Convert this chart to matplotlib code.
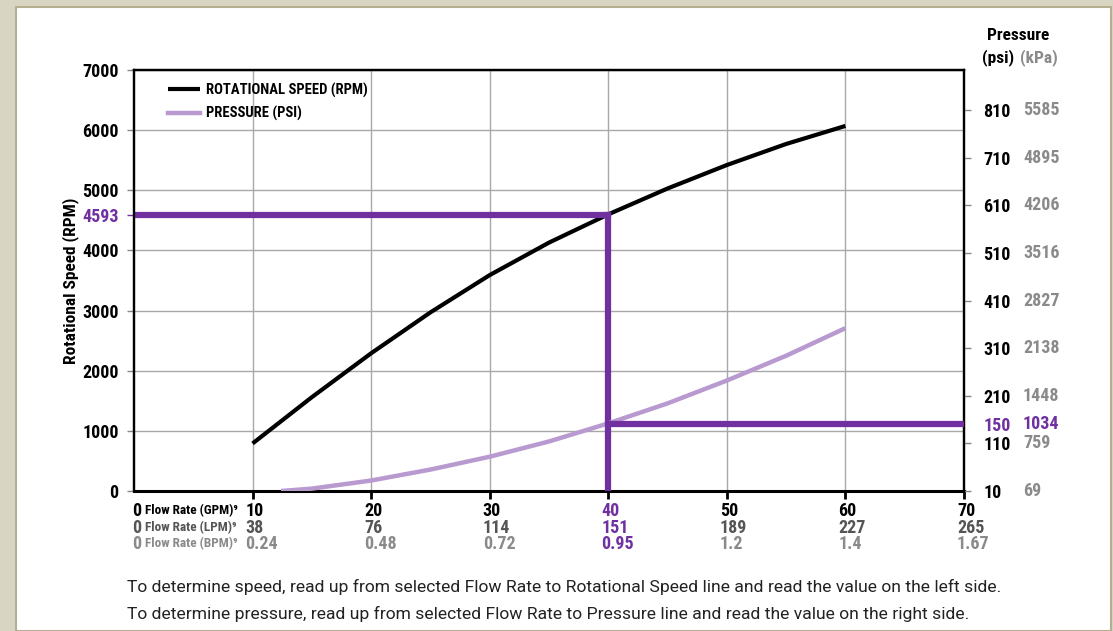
import matplotlib.pyplot as plt
import matplotlib.transforms as mtransforms
from matplotlib.patches import Rectangle
from matplotlib import font_manager
import numpy as np

# --- data ---
gpm = [10, 15, 20, 25, 30, 35, 40, 45, 50, 55, 60]
rpm = [790, 1560, 2290, 2970, 3590, 4130, 4600, 5030, 5420, 5770, 6070]

gpm_p = [12.4, 15, 20, 25, 30, 35, 40, 45, 50, 55, 60]
psi = [10, 15, 32, 55, 82, 114, 152, 194, 242, 294, 352]

x_ticks = [10, 20, 30, 40, 50, 60, 70]
lpm_labels = ['38', '76', '114', '151', '189', '227', '265']
bpm_labels = ['0.24', '0.48', '0.72', '0.95', '1.2', '1.4', '1.67']

rpm_ticks = [0, 1000, 2000, 3000, 4000, 5000, 6000, 7000]
psi_ticks = [10, 110, 210, 310, 410, 510, 610, 710, 810]
kpa_labels = ['69', '759', '1448', '2138', '2827', '3516', '4206', '4895', '5585']

sel_gpm = 40
sel_rpm = 4593
sel_psi = 150
sel_kpa = '1034'

# --- style ---
names = {f.name for f in font_manager.fontManager.ttflist}
narrow = [n for n in ['Roboto Condensed', 'Liberation Sans Narrow', 'Open Sans Condensed']
          if n in names]
NARROW = narrow + ['Roboto', 'DejaVu Sans']
STRETCH = 'condensed'
BLACK = '#000000'
PURPLE = '#7030a0'
LILAC = '#b99ad0'
GRAY2 = '#555555'
GRAY3 = '#8a8a8a'

fig = plt.figure(figsize=(11.13, 6.31), dpi=100)
fig.patch.set_facecolor('#d9d5c3')
fig.patches.append(Rectangle((16 / 1113, 0), 1095 / 1113, 624 / 631,
                             transform=fig.transFigure, facecolor='white',
                             edgecolor='#b5ae90', lw=1.5, zorder=-10))

ax = fig.add_axes([134 / 1113, (631 - 491) / 631, 830 / 1113, 421 / 631])
ax.set_facecolor('white')
ax.set_xlim(0, 70)
ax.set_ylim(0, 7000)

ax2 = ax.twinx()
ax2.set_ylim(10, 10 + 421 / 0.47625)

# grid
ax.set_xticks(x_ticks)
ax.set_yticks(rpm_ticks)
ax.grid(True, which='major', color='#a8a8a8', lw=1.0)
ax.set_axisbelow(True)

# curves
ax.plot(gpm, rpm, color=BLACK, lw=3.0, solid_capstyle='butt',
        solid_joinstyle='round', zorder=4, label='ROTATIONAL SPEED (RPM)')
ax2.plot(gpm_p, psi, color=LILAC, lw=3.2, solid_capstyle='butt',
         solid_joinstyle='round', zorder=3)
ax.plot([], [], color=LILAC, lw=3.2, label='PRESSURE (PSI)')

# selection guide lines
ax.plot([0, sel_gpm], [sel_rpm, sel_rpm], color=PURPLE, lw=4.5, zorder=5,
        solid_capstyle='projecting')
ax.plot([sel_gpm, sel_gpm], [0, sel_rpm], color=PURPLE, lw=4.5, zorder=5,
        solid_capstyle='projecting')
ax2.plot([sel_gpm, 70], [sel_psi, sel_psi], color=PURPLE, lw=4.5, zorder=5)

# spines
for s in ['left', 'top', 'right']:
    ax.spines[s].set_linewidth(1.6)
    ax2.spines[s].set_linewidth(1.6)
ax.spines['bottom'].set_linewidth(2.2)
ax2.spines['bottom'].set_visible(False)

tkw = dict(fontfamily=NARROW, fontstretch=STRETCH, fontweight='bold', fontsize=13)

# left axis labels
ax.set_yticklabels([str(v) for v in rpm_ticks], **tkw)
ax.tick_params(axis='y', which='major', length=5, color='#888888', width=1, pad=6)
ax.set_yticks([sel_rpm], minor=True)
ax.set_yticklabels([str(sel_rpm)], minor=True, color=PURPLE, **tkw)
ax.tick_params(axis='y', which='minor', length=5, color=PURPLE, width=1, pad=6)
ax.set_ylabel('Rotational Speed (RPM)', fontfamily=NARROW, fontstretch=STRETCH,
              fontweight='bold', fontsize=12.5, labelpad=2)

# bottom axis: ticks only, labels drawn as rows below
ax.set_xticklabels([])
ax.tick_params(axis='x', length=6, width=2, color=BLACK, direction='out')

# right axis
ax2.set_yticks(psi_ticks)
ax2.set_yticklabels([str(v) for v in psi_ticks], **tkw)
ax2.tick_params(axis='y', which='major', length=5, color='#888888', width=1, pad=9)
ax2.set_yticks([sel_psi], minor=True)
ax2.set_yticklabels([str(sel_psi)], minor=True, color=PURPLE, **tkw)
ax2.tick_params(axis='y', which='minor', length=0, pad=14)

kpa_tr = mtransforms.blended_transform_factory(ax2.transAxes, ax2.transData)
for v, lab in zip(psi_ticks, kpa_labels):
    ax2.text(1.071, v, lab, transform=kpa_tr, ha='left', va='center',
             color=GRAY3, **tkw)
ax2.text(1.071, sel_psi, sel_kpa, transform=kpa_tr, ha='left', va='center',
         color=PURPLE, **tkw)

hkw = dict(fontfamily=NARROW, fontstretch=STRETCH, fontweight='bold', fontsize=12.5)
fig.text(1018 / 1113, 1 - 36 / 631, 'Pressure', ha='center', va='center', **hkw)
fig.text(998 / 1113, 1 - 58 / 631, '(psi)', ha='center', va='center', **hkw)
fig.text(1039 / 1113, 1 - 58 / 631, '(kPa)', ha='center', va='center',
         color=GRAY3, **hkw)

# flow rate rows
row_tr = mtransforms.blended_transform_factory(ax.transData, ax.transAxes)
shift = mtransforms.ScaledTranslation(-7 / 100, 0, fig.dpi_scale_trans)
zero_shift = mtransforms.ScaledTranslation(-2 / 100, 0, fig.dpi_scale_trans)
name_shift = mtransforms.ScaledTranslation(11 / 100, 0, fig.dpi_scale_trans)
rows = [
    ('Flow Rate (GPM)⁹', [str(v) for v in x_ticks], BLACK, -0.047),
    ('Flow Rate (LPM)⁹', lpm_labels, GRAY2, -0.0875),
    ('Flow Rate (BPM)⁹', bpm_labels, GRAY3, -0.1255),
]
for name, labels, col, yy in rows:
    ax.text(0, yy, '0', transform=row_tr + zero_shift, ha='left', va='center',
            color=col, clip_on=False, **tkw)
    ax.text(0, yy, name, transform=row_tr + name_shift, ha='left', va='center',
            fontfamily=NARROW, fontstretch=STRETCH, fontweight='bold',
            fontsize=9.5, color=col, clip_on=False)
    for xv, lab in zip(x_ticks, labels):
        c = PURPLE if xv == sel_gpm else col
        ax.text(xv, yy, lab, transform=row_tr + shift, ha='left', va='center',
                color=c, clip_on=False, **tkw)

# legend
leg = ax.legend(loc='upper left', bbox_to_anchor=(0.041, 0.97), frameon=False,
                borderpad=0, borderaxespad=0, handlelength=2.2,
                handletextpad=0.4, labelspacing=0.6,
                prop={'family': NARROW, 'stretch': STRETCH, 'weight': 'bold',
                      'size': 10.5})

# notes
fig.text(127 / 1113, 1 - 587 / 631,
         'To determine speed, read up from selected Flow Rate to Rotational Speed line and read the value on the left side.',
         ha='left', va='center', fontfamily='Roboto', fontsize=12.6, color='#222222')
fig.text(127 / 1113, 1 - 614 / 631,
         'To determine pressure, read up from selected Flow Rate to Pressure line and read the value on the right side.',
         ha='left', va='center', fontfamily='Roboto', fontsize=12.6, color='#222222')

fig.savefig('out.png', dpi=100, facecolor=fig.get_facecolor())
